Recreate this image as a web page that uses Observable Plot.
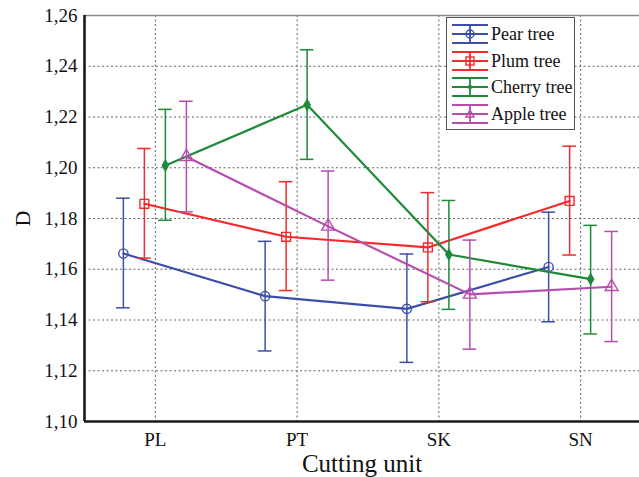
<!DOCTYPE html>
<html>
<head>
<meta charset="utf-8">
<script src="https://cdn.jsdelivr.net/npm/d3@7"></script>
<script src="https://cdn.jsdelivr.net/npm/@observablehq/plot@0.6"></script>
<style>
  body { margin: 0; background: #fff; }
  #wrap { position: relative; width: 639px; height: 477px; font-family: "Liberation Serif", serif; }
  #wrap svg text { font-family: "Liberation Serif", serif; }
  #legend { position: absolute; left: 446px; top: 17px; width: 129px; height: 113px; border: 1.5px solid #555; background: #fff; box-sizing: border-box; }
  .item { position: absolute; left: 0; height: 20px; display: flex; align-items: center; }
  .item svg { margin-left: 5px; }
  .item span { font-family: "Liberation Serif", serif; font-size: 18px; margin-left: 3px; color: #111; line-height: 20px; }
</style>
</head>
<body>
<div id="wrap"></div>
<script>
// ---- data ----
const categories = ["PL", "PT", "SK", "SN"];
const seriesNames = ["Pear tree", "Plum tree", "Cherry tree", "Apple tree"];

const pearMean  = [1.1662, 1.1494, 1.1444, 1.1609];
const pearLow   = [1.1448, 1.1278, 1.1233, 1.1393];
const pearHigh  = [1.1880, 1.1710, 1.1660, 1.1825];

const plumMean  = [1.1858, 1.1728, 1.1686, 1.1869];
const plumLow   = [1.1644, 1.1516, 1.1472, 1.1656];
const plumHigh  = [1.2076, 1.1945, 1.1902, 1.2085];

const cherryMean = [1.2009, 1.2248, 1.1658, 1.1561];
const cherryLow  = [1.1793, 1.2033, 1.1442, 1.1345];
const cherryHigh = [1.2230, 1.2465, 1.1871, 1.1773];

const appleMean = [1.2043, 1.1769, 1.1501, 1.1531];
const appleLow  = [1.1826, 1.1557, 1.1285, 1.1315];
const appleHigh = [1.2262, 1.1987, 1.1715, 1.1749];

const yTicks = [1.10, 1.12, 1.14, 1.16, 1.18, 1.20, 1.22, 1.24, 1.26];
const yTickLabels = ["1,10", "1,12", "1,14", "1,16", "1,18", "1,20", "1,22", "1,24", "1,26"];

// ---- styles ----
const styles = [
  {color: "#3c4ea6", dx: -32, symbol: "circle",   r: 4.6, fill: "none"},
  {color: "#f42a2a", dx: -11, symbol: "square",   r: 5.0, fill: "none"},
  {color: "#1e8a3a", dx: 10,  symbol: "diamond",  r: 3.2, fill: "#1e8a3a"},
  {color: "#b64dac", dx: 31,  symbol: "triangle", r: 4.8, fill: "none"}
];

const seriesData = [
  [pearMean, pearLow, pearHigh],
  [plumMean, plumLow, plumHigh],
  [cherryMean, cherryLow, cherryHigh],
  [appleMean, appleLow, appleHigh]
];

const tables = seriesData.map(([m, lo, hi], s) =>
  categories.map((c, i) => ({series: seriesNames[s], cat: c, xi: categories.indexOf(c), mean: m[i], lo: lo[i], hi: hi[i]}))
);

const capHalf = 0.048;
const marks = [];

// grid
marks.push(Plot.gridY(yTicks.slice(1, -1), {stroke: "#555", strokeOpacity: 0.9, strokeDasharray: "2,2.5", strokeWidth: 1}));
marks.push(Plot.gridX(categories.map((c, i) => i), {stroke: "#555", strokeOpacity: 0.9, strokeDasharray: "2,2.5", strokeWidth: 1}));

// frame top line
marks.push(Plot.ruleY([yTicks[yTicks.length - 1]], {stroke: "#888", strokeWidth: 1.5}));

// series
tables.forEach((rows, s) => {
  const st = styles[s];
  marks.push(Plot.ruleX(rows, {x: "xi", y1: "lo", y2: "hi", stroke: st.color, strokeWidth: 1.5, dx: st.dx}));
  marks.push(Plot.ruleY(rows, {y: "lo", x1: d => d.xi - capHalf, x2: d => d.xi + capHalf, stroke: st.color, strokeWidth: 1.5, dx: st.dx}));
  marks.push(Plot.ruleY(rows, {y: "hi", x1: d => d.xi - capHalf, x2: d => d.xi + capHalf, stroke: st.color, strokeWidth: 1.5, dx: st.dx}));
  marks.push(Plot.line(rows, {x: "xi", y: "mean", stroke: st.color, strokeWidth: 2.2, dx: st.dx}));
  marks.push(Plot.dot(rows, {x: "xi", y: "mean", symbol: st.symbol, r: st.r, stroke: st.color, fill: st.fill, strokeWidth: 1.4, dx: st.dx}));
});

// axis lines
marks.push(Plot.ruleY([yTicks[0]], {stroke: "#1a1a1a", strokeWidth: 2.6}));
marks.push(Plot.ruleX([-0.5], {stroke: "#1a1a1a", strokeWidth: 2.6}));

// axes
marks.push(Plot.axisY(yTicks, {tickFormat: v => yTickLabels[yTicks.indexOf(v)], tickSize: 0, tickPadding: 7, fontSize: 19, label: null}));
marks.push(Plot.axisX(categories.map((c, i) => i), {tickFormat: i => categories[i], tickSize: 0, tickPadding: 11, fontSize: 19, label: null}));
marks.push(Plot.text(["Cutting unit"], {frameAnchor: "bottom", lineAnchor: "middle", textAnchor: "middle", dy: 42, fontSize: 25, fill: "#111"}));
marks.push(Plot.text(["D"], {frameAnchor: "left", lineAnchor: "middle", textAnchor: "middle", dx: -62, rotate: -90, fontSize: 22, fill: "#111"}));

const chart = Plot.plot({
  width: 639,
  height: 477,
  marginLeft: 84,
  marginRight: 0,
  marginTop: 15,
  marginBottom: 56,
  style: {fontFamily: "'Liberation Serif', serif", fontSize: "19px", color: "#111", background: "#fff"},
  x: {type: "linear", domain: [-0.5, 3.5], range: [84, 651]},
  y: {domain: [yTicks[0], yTicks[yTicks.length - 1]]},
  marks
});

const wrap = document.getElementById("wrap");
wrap.appendChild(chart);

// legend
const legend = document.createElement("div");
legend.id = "legend";
const markerSvg = (st) => {
  const cx = 18, cy = 10;
  let m = "";
  if (st.symbol === "circle") m = `<circle cx="${cx}" cy="${cy}" r="4" fill="none" stroke="${st.color}" stroke-width="1.4"/>`;
  if (st.symbol === "square") m = `<rect x="${cx-4}" y="${cy-4}" width="8" height="8" fill="none" stroke="${st.color}" stroke-width="1.4"/>`;
  if (st.symbol === "diamond") m = `<path d="M${cx},${cy-3}L${cx+3},${cy}L${cx},${cy+3}L${cx-3},${cy}Z" fill="${st.color}"/>`;
  if (st.symbol === "triangle") m = `<path d="M${cx},${cy-4}L${cx+4},${cy+3}L${cx-4},${cy+3}Z" fill="none" stroke="${st.color}" stroke-width="1.4"/>`;
  return `<svg width="36" height="20" viewBox="0 0 36 20">
    <line x1="0" x2="36" y1="${cy-9}" y2="${cy-9}" stroke="${st.color}" stroke-width="1.8"/>
    <line x1="0" x2="36" y1="${cy}" y2="${cy}" stroke="${st.color}" stroke-width="1.8"/>
    <line x1="0" x2="36" y1="${cy+9}" y2="${cy+9}" stroke="${st.color}" stroke-width="1.8"/>
    <line x1="${cx}" x2="${cx}" y1="${cy-9}" y2="${cy+9}" stroke="${st.color}" stroke-width="1.8"/>
    ${m}
  </svg>`;
};
seriesNames.forEach((name, s) => {
  const item = document.createElement("div");
  item.className = "item";
  item.style.top = (6 + s * 26.7) + "px";
  item.innerHTML = markerSvg(styles[s]) + `<span>${name}</span>`;
  legend.appendChild(item);
});
wrap.appendChild(legend);
</script>
</body>
</html>
